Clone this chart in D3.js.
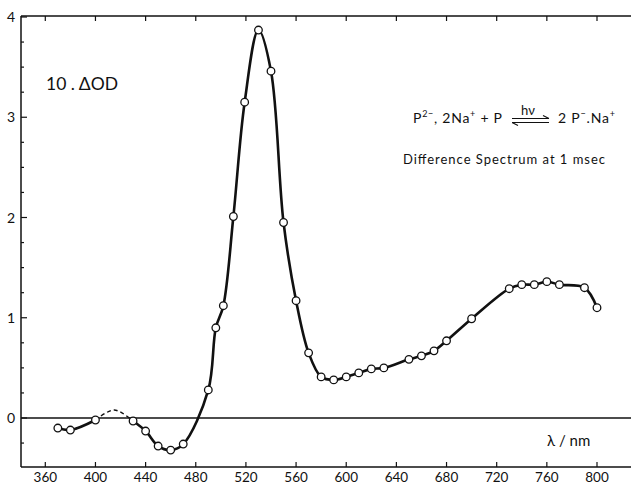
<!DOCTYPE html>
<html>
<head>
<meta charset="utf-8">
<script src="https://cdn.jsdelivr.net/npm/d3@7"></script>
<style>
  body { margin: 0; background: #fff; }
  text { font-family: Lato, "DejaVu Sans", sans-serif; fill: #111; }
</style>
</head>
<body>
<svg id="chart" width="631" height="486"></svg>
<script>
// wavelengths (nm) and 10·ΔOD
const solidA   = [370, 380, 400];
const solidAv  = [-0.10, -0.12, -0.02];
const dashed   = [400, 415, 430];
const dashedV  = [-0.02, 0.08, -0.03];
const solidB   = [430, 440, 450, 460, 470, 490, 496, 502, 510, 519, 530, 540, 550, 560, 570,
                  580, 590, 600, 610, 620, 630, 650, 660, 670, 680, 700, 730, 740, 750, 760, 770, 790, 800];
const solidBv  = [-0.03, -0.13, -0.28, -0.32, -0.26, 0.28, 0.90, 1.12, 2.01, 3.15, 3.87, 3.46, 1.95, 1.17, 0.65,
                  0.41, 0.38, 0.41, 0.45, 0.49, 0.50, 0.585, 0.62, 0.67, 0.77, 0.99, 1.29, 1.33, 1.33, 1.36, 1.33, 1.30, 1.10];
// points marked with circles (every measured wavelength)
const markers  = solidA.concat(solidB);
const markersV = solidAv.concat(solidBv);

const xTicks = [360, 400, 440, 480, 520, 560, 600, 640, 680, 720, 760, 800];
const yMajor = [0, 1, 2, 3, 4];
const yMinor = d3.range(-0.25, 4, 0.25).filter(v => Math.abs(v - Math.round(v)) > 1e-6);

const svg = d3.select('#chart');
const fLeft = 21, fTop = 16, fBottom = 467, fRight = 640;

const x = d3.scaleLinear().domain([360, 800]).range([45.3, 597]);
const y = d3.scaleLinear().domain([0, 4]).range([418, 17]);

// frame
const frame = svg.append('g').attr('stroke', '#111').attr('stroke-width', 1.5).attr('fill', 'none');
frame.append('line').attr('x1', fLeft).attr('x2', fRight).attr('y1', fTop).attr('y2', fTop);
frame.append('line').attr('x1', fLeft).attr('x2', fRight).attr('y1', fBottom).attr('y2', fBottom);
frame.append('line').attr('x1', fLeft).attr('x2', fLeft).attr('y1', fTop).attr('y2', fBottom);
// zero line
frame.append('line').attr('x1', fLeft).attr('x2', fRight).attr('y1', y(0)).attr('y2', y(0));

// x ticks (inside, bottom and top)
const ticks = svg.append('g').attr('stroke', '#111').attr('stroke-width', 1.2);
xTicks.forEach(t => {
  ticks.append('line').attr('x1', x(t)).attr('x2', x(t)).attr('y1', fBottom).attr('y2', fBottom - 5);
  ticks.append('line').attr('x1', x(t)).attr('x2', x(t)).attr('y1', fTop).attr('y2', fTop + 5);
});
yMajor.forEach(t => {
  ticks.append('line').attr('x1', fLeft).attr('x2', fLeft + 6).attr('y1', y(t)).attr('y2', y(t));
});
yMinor.forEach(t => {
  ticks.append('line').attr('x1', fLeft).attr('x2', fLeft + 3).attr('y1', y(t)).attr('y2', y(t));
});

// tick labels
svg.append('g').selectAll('text').data(xTicks).join('text')
  .attr('x', d => x(d)).attr('y', 482)
  .attr('text-anchor', 'middle').attr('font-size', 13.5)
  .text(d => d);
svg.append('g').selectAll('text').data(yMajor).join('text')
  .attr('x', 11).attr('y', d => y(d) + 5)
  .attr('text-anchor', 'middle').attr('font-size', 14)
  .text(d => d);

// curves
const line = d3.line()
  .x(d => x(d[0])).y(d => y(d[1]))
  .curve(d3.curveCatmullRom.alpha(0.5));

const curveG = svg.append('g').attr('fill', 'none').attr('stroke', '#111');
curveG.append('path').datum(d3.zip(solidA, solidAv)).attr('d', line).attr('stroke-width', 2.6);
curveG.append('path').datum(d3.zip(solidB, solidBv)).attr('d', line).attr('stroke-width', 2.6);
curveG.append('path').datum(d3.zip(dashed, dashedV)).attr('d', line)
  .attr('stroke-width', 1.4).attr('stroke-dasharray', '4,3');

// markers
svg.append('g').selectAll('circle').data(d3.zip(markers, markersV)).join('circle')
  .attr('cx', d => x(d[0])).attr('cy', d => y(d[1])).attr('r', 3.8)
  .attr('fill', '#fff').attr('stroke', '#111').attr('stroke-width', 1.3);

// annotations
svg.append('text').attr('x', 46).attr('y', 90).attr('font-size', 17.5).text('10 . ΔOD');

const eq = svg.append('text').attr('x', 413).attr('y', 123).attr('font-size', 14)
  .attr('textLength', 89).attr('lengthAdjust', 'spacing');
eq.append('tspan').text('P');
eq.append('tspan').attr('dy', -6).attr('font-size', 9).text('2−');
eq.append('tspan').attr('dy', 6).text(', 2Na');
eq.append('tspan').attr('dy', -6).attr('font-size', 9).text('+');
eq.append('tspan').attr('dy', 6).text(' + P');

const eq2 = svg.append('text').attr('x', 558).attr('y', 123).attr('font-size', 14)
  .attr('textLength', 57).attr('lengthAdjust', 'spacing');
eq2.append('tspan').text('2 P');
eq2.append('tspan').attr('dy', -6).attr('font-size', 9).text('−');
eq2.append('tspan').attr('dy', 6).text('.Na');
eq2.append('tspan').attr('dy', -6).attr('font-size', 9).text('+');

svg.append('text').attr('x', 528).attr('y', 115).attr('font-size', 13)
  .attr('text-anchor', 'middle').text('hν');
const arr = svg.append('g').attr('stroke', '#111').attr('stroke-width', 1.1).attr('fill', 'none');
arr.append('path').attr('d', 'M512,118.5 H549 M549,118.5 l-6,-3');
arr.append('path').attr('d', 'M512,122.5 H549 M512,122.5 l6,3');

svg.append('text').attr('x', 403).attr('y', 164).attr('font-size', 13)
  .attr('textLength', 202).attr('lengthAdjust', 'spacing')
  .text('Difference Spectrum at 1 msec');

svg.append('text').attr('x', 547).attr('y', 446).attr('font-size', 15).text('λ / nm');
</script>
</body>
</html>
